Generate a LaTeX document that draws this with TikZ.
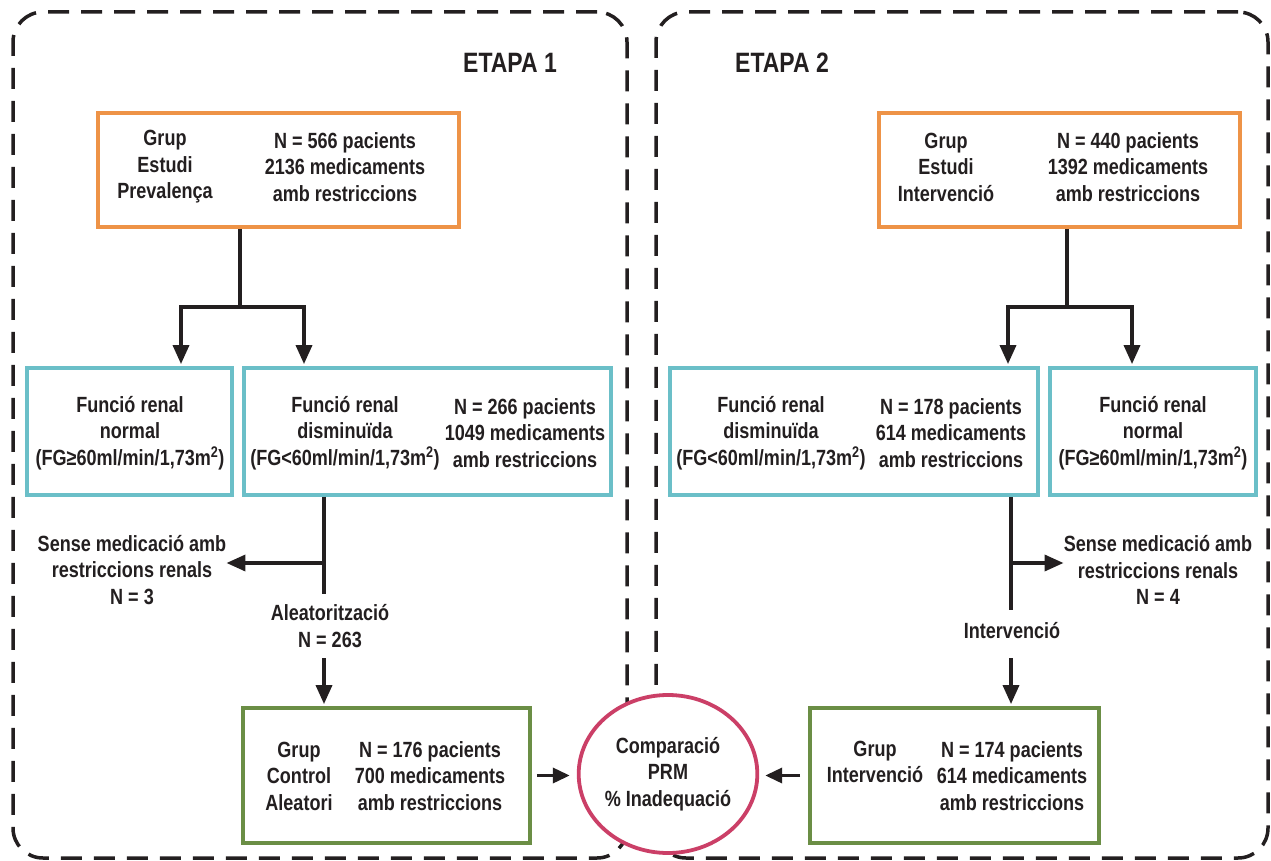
\documentclass[tikz,border=0pt]{standalone}
\usepackage{fontspec}
\newfontfamily\dfont{Liberation Sans}[FakeStretch=0.82]
\usetikzlibrary{arrows.meta,shapes.geometric}
\definecolor{ink}{HTML}{231F20}
\definecolor{orangeb}{HTML}{EE9347}
\definecolor{cyanb}{HTML}{6BBFC8}
\definecolor{greenb}{HTML}{6B8E45}
\definecolor{pinkb}{HTML}{CB3F67}
\begin{document}
\begin{tikzpicture}[x=1pt,y=-1pt,
  stage/.style={draw=ink, line width=3.5pt, dash pattern=on 21pt off 12pt, rounded corners=30pt, inner sep=0},
  ob/.style={draw=orangeb, line width=3.8pt, fill=white, inner sep=0},
  cb/.style={draw=cyanb, line width=3.8pt, fill=white, inner sep=0},
  gb/.style={draw=greenb, line width=3.8pt, fill=white, inner sep=0},
  txt/.style={font=\dfont\bfseries\fontsize{22}{26.5}\selectfont, align=center, inner sep=0, text=ink},
  ttl/.style={font=\dfont\bfseries\fontsize{28}{30}\selectfont, inner sep=0, text=ink},
  conn/.style={draw=ink, line width=3.5pt},
  arr/.style={conn, -{Triangle[width=16pt,length=19pt]}},
  arrboth/.style={conn, {Triangle[width=16pt,length=19pt]}-{Triangle[width=16pt,length=19pt]}},
  sarr/.style={conn, -{Triangle[width=15pt,length=17pt]}}
]
\useasboundingbox (0,0) rectangle (1271,861);

% stages
\node[stage, minimum width=614pt, minimum height=846pt] (st1) at (320,435) {};
\node[stage, minimum width=612pt, minimum height=846pt] (st2) at (962,435) {};
\node[ttl] (e1) at (510,63) {ETAPA 1};
\node[ttl] (e2) at (782,63) {ETAPA 2};

% top boxes
\node[ob, minimum width=361pt, minimum height=114pt] (o1) at (278.5,170) {};
\node[txt] (o1a) at (165,167) {Grup\\Estudi\\Prevalença};
\node[txt] (o1b) at (345,167) {N = 566 pacients\\2136 medicaments\\amb restriccions};
\node[ob, minimum width=361pt, minimum height=114pt] (o2) at (1059.5,170) {};
\node[txt] (o2a) at (946,167) {Grup\\Estudi\\Intervenció};
\node[txt] (o2b) at (1128,167) {N = 440 pacients\\1392 medicaments\\amb restriccions};

% middle boxes
\node[cb, minimum width=205pt, minimum height=127pt] (c1) at (129.5,431.5) {};
\node[txt] (c1a) at (130,433) {Funció renal\\normal\\(FG≥60ml/min/1,73m\textsuperscript{2})};
\node[cb, minimum width=367pt, minimum height=127pt] (c2) at (427.5,431.5) {};
\node[txt] (c2a) at (345,433) {Funció renal\\disminuïda\\(FG<60ml/min/1,73m\textsuperscript{2})};
\node[txt] (c2b) at (525,433) {N = 266 pacients\\1049 medicaments\\amb restriccions};
\node[cb, minimum width=368pt, minimum height=127pt] (c3) at (854,431.5) {};
\node[txt] (c3a) at (771,433) {Funció renal\\disminuïda\\(FG<60ml/min/1,73m\textsuperscript{2})};
\node[txt] (c3b) at (951,433) {N = 178 pacients\\614 medicaments\\amb restriccions};
\node[cb, minimum width=206pt, minimum height=127pt] (c4) at (1153,431.5) {};
\node[txt] (c4a) at (1153,433) {Funció renal\\normal\\(FG≥60ml/min/1,73m\textsuperscript{2})};

% labels
\node[txt] (sense1) at (132,570) {Sense medicació amb\\restriccions renals\\N = 3};
\node[txt] (al1) at (330,626) {Aleatorització\\N = 263};
\node[txt] (sense2) at (1158,570) {Sense medicació amb\\restriccions renals\\N = 4};
\node[txt] (int2) at (1012,631) {Intervenció};

% bottom boxes
\node[gb, minimum width=287pt, minimum height=135pt] (g1) at (386.5,775.5) {};
\node[txt] (g1a) at (299,776) {Grup\\Control\\Aleatori};
\node[txt] (g1b) at (430,776) {N = 176 pacients\\700 medicaments\\amb restriccions};
\node[gb, minimum width=289pt, minimum height=135pt] (g2) at (954.5,775.5) {};
\node[txt] (g2a) at (875,762) {Grup\\Intervenció};
\node[txt] (g2b) at (1012,776) {N = 174 pacients\\614 medicaments\\amb restriccions};

\node[ellipse, draw=pinkb, line width=3.8pt, fill=white, minimum width=174pt, minimum height=158pt, inner sep=0, txt] (cmp) at (668,774) {Comparació\\PRM\\\% Inadequació};

% connectors stage 1
\coordinate (s1) at (240,307);
\coordinate (t1) at (181,307);
\coordinate (t2) at (304,307);
\draw[conn] (s1 |- o1.south) -- (s1);
\draw[arrboth, shorten <=2pt, shorten >=2pt] (t1 |- c1.north) -- (t1) -- (t2) -- (t2 |- c2.north);
\coordinate (v1) at (324,594);
\coordinate (h1) at (324,563);
\coordinate (v1b) at (324,658);
\draw[conn] (v1 |- c2.south) -- (v1);
\draw[arr] (h1) -- (h1 -| sense1.east);
\draw[arr, shorten >=2pt] (v1b) -- (v1b |- g1.north);

% connectors stage 2
\coordinate (s2) at (1067,307);
\coordinate (t3) at (1008,307);
\coordinate (t4) at (1132,307);
\draw[conn] (s2 |- o2.south) -- (s2);
\draw[arrboth, shorten <=2pt, shorten >=2pt] (t3 |- c3.north) -- (t3) -- (t4) -- (t4 |- c4.north);
\coordinate (v2) at (1011,610);
\coordinate (h2) at (1011,563);
\coordinate (v2b) at (1011,658);
\draw[conn] (v2 |- c3.south) -- (v2);
\draw[arr] (h2) -- (h2 -| sense2.west);
\draw[arr, shorten >=2pt] (v2b) -- (v2b |- g2.north);

% to comparison
\draw[sarr, shorten <=5pt, shorten >=7pt] (g1.east) -- (g1.east -| cmp.west);
\draw[sarr, shorten <=8pt, shorten >=6pt] (g2.west) -- (g2.west -| cmp.east);
\end{tikzpicture}
\end{document}
